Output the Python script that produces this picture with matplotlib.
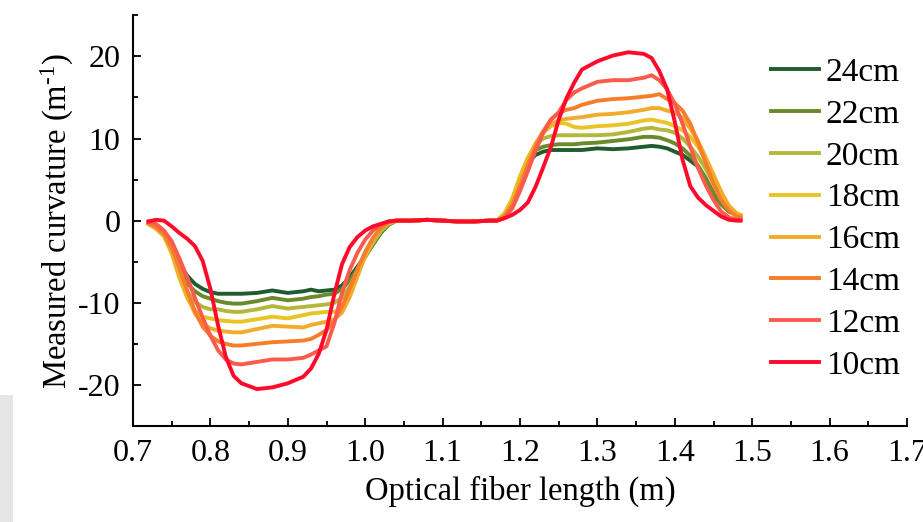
import matplotlib
matplotlib.use("Agg")
import matplotlib.pyplot as plt
from matplotlib.patches import Rectangle
from matplotlib.ticker import MultipleLocator

plt.rcParams['font.family'] = ['Liberation Serif', 'DejaVu Serif']
plt.rcParams['mathtext.fontset'] = 'custom'
plt.rcParams['mathtext.rm'] = 'Liberation Serif'
plt.rcParams['mathtext.it'] = 'Liberation Serif:italic'
plt.rcParams['axes.unicode_minus'] = False

# fiber position (m), shared by all curves
fiber_x = [0.72, 0.73, 0.74, 0.75, 0.76, 0.77, 0.78, 0.79, 0.80, 0.81, 0.82, 0.83, 0.84,
           0.86, 0.88, 0.90, 0.92, 0.93, 0.94, 0.95, 0.96, 0.97, 0.98, 0.99, 1.00, 1.01,
           1.02, 1.03, 1.04,
           1.06, 1.08, 1.10, 1.12, 1.14, 1.16, 1.17,
           1.18, 1.19, 1.20, 1.21, 1.22, 1.23, 1.24, 1.25, 1.26, 1.27, 1.28, 1.30, 1.32,
           1.34, 1.36, 1.37, 1.38, 1.39, 1.40, 1.41, 1.42, 1.43, 1.44, 1.45, 1.46, 1.47,
           1.48, 1.485]

labels = ['24cm', '22cm', '20cm', '18cm', '16cm', '14cm', '12cm', '10cm']
colors = ['#1f5c2e', '#6b8a2c', '#b4b83a', '#e8c424', '#f2ac2c', '#f77d2a', '#fb5b4d', '#ff0a2b']

curv_24 = [-0.3, -0.7, -1.5, -3.5, -5.3, -6.7, -7.7, -8.3, -8.7, -8.9, -8.9, -8.9, -8.9,
           -8.8, -8.5, -8.8, -8.6, -8.4, -8.6, -8.5, -8.4, -7.9, -6.9, -5.6, -4.3, -2.9,
           -1.5, -0.5, 0.0,
           0.0, 0.1, 0.0, -0.1, -0.1, 0.0, 0.0,
           0.6, 2.3, 5.0, 7.0, 8.0, 8.4, 8.6, 8.6, 8.6, 8.6, 8.6, 8.8, 8.7,
           8.8, 9.0, 9.1, 9.0, 8.8, 8.4, 8.0, 7.3, 6.6, 4.8, 3.2, 2.0, 1.1,
           0.7, 0.6]
curv_22 = [-0.4, -0.8, -1.7, -3.6, -6.0, -7.6, -8.6, -9.2, -9.5, -9.8, -10.0, -10.1, -10.1,
           -9.8, -9.4, -9.7, -9.5, -9.3, -9.2, -9.0, -8.9, -8.3, -7.3, -5.9, -4.4, -2.9,
           -1.5, -0.5, 0.0,
           0.0, 0.1, 0.0, -0.1, -0.1, 0.0, 0.0,
           0.7, 2.5, 5.2, 7.4, 8.6, 9.0, 9.2, 9.3, 9.3, 9.3, 9.4, 9.5, 9.7,
           9.9, 10.2, 10.2, 10.1, 9.8, 9.4, 8.8, 7.9, 6.7, 5.2, 3.4, 2.0, 1.2,
           0.8, 0.6]
curv_20 = [-0.4, -0.9, -1.8, -3.8, -6.6, -8.7, -9.9, -10.5, -10.8, -10.8, -11.0, -11.1, -11.1,
           -10.8, -10.4, -10.7, -10.5, -10.4, -10.3, -10.2, -10.0, -9.4, -8.0, -6.2, -4.4, -2.7,
           -1.3, -0.4, 0.0,
           0.0, 0.1, 0.0, -0.1, -0.1, 0.0, 0.0,
           0.8, 2.6, 5.3, 7.6, 9.2, 10.0, 10.3, 10.4, 10.4, 10.4, 10.4, 10.4, 10.5,
           10.8, 11.2, 11.3, 11.1, 11.0, 10.7, 10.0, 9.0, 7.8, 6.3, 4.5, 2.8, 1.5,
           0.8, 0.6]
curv_18 = [-0.4, -1.0, -1.9, -4.0, -7.0, -9.4, -11.0, -11.7, -11.9, -12.1, -12.2, -12.3, -12.3,
           -12.0, -11.7, -11.9, -11.5, -11.3, -11.2, -11.1, -11.1, -10.8, -8.8, -6.3, -4.0, -2.2,
           -0.9, -0.2, 0.0,
           0.0, 0.1, 0.0, -0.1, -0.1, 0.0, 0.0,
           0.9, 2.7, 5.4, 7.6, 9.4, 10.7, 11.5, 11.9, 11.8, 11.4, 11.3, 11.5, 11.6,
           11.8, 12.2, 12.3, 12.1, 11.9, 11.5, 11.0, 10.2, 9.0, 7.4, 5.3, 3.3, 1.7,
           0.8, 0.6]
curv_16 = [-0.4, -1.0, -1.8, -3.8, -6.7, -9.2, -11.3, -12.6, -13.1, -13.4, -13.5, -13.6, -13.6,
           -13.2, -12.8, -12.9, -13.0, -12.7, -12.5, -12.3, -12.0, -11.2, -9.3, -6.8, -4.3, -2.4,
           -1.0, -0.3, 0.0,
           0.0, 0.1, 0.0, -0.1, -0.1, 0.0, 0.0,
           0.6, 2.2, 4.8, 7.2, 9.3, 10.9, 11.8, 12.2, 12.4, 12.5, 12.6, 12.9, 13.0,
           13.2, 13.5, 13.7, 13.7, 13.4, 13.2, 12.5, 11.2, 9.7, 7.7, 5.6, 3.5, 1.8,
           0.9, 0.7]
curv_14 = [-0.3, -0.8, -1.6, -3.3, -5.8, -8.5, -11.0, -12.9, -14.0, -14.7, -15.0, -15.2, -15.2,
           -15.0, -14.8, -14.7, -14.6, -14.4, -13.9, -13.3, -12.2, -10.5, -8.3, -5.9, -3.8, -2.1,
           -0.9, -0.2, 0.0,
           0.0, 0.1, 0.0, -0.1, -0.1, 0.0, 0.0,
           0.5, 1.9, 4.2, 6.7, 9.0, 10.9, 12.3, 13.1, 13.5, 13.7, 14.1, 14.6, 14.8,
           14.9, 15.1, 15.2, 15.4, 14.8, 14.3, 13.4, 11.8, 9.5, 7.0, 4.5, 2.5, 1.2,
           0.5, 0.4]
curv_12 = [-0.1, -0.4, -1.2, -2.5, -4.6, -6.9, -9.4, -11.8, -14.0, -15.8, -16.9, -17.4, -17.5,
           -17.2, -16.9, -16.9, -16.7, -16.3, -15.8, -15.3, -12.5, -8.8, -6.0, -3.9, -2.3, -1.2,
           -0.5, -0.1, 0.0,
           0.0, 0.1, 0.0, -0.1, -0.1, 0.0, 0.0,
           0.3, 1.5, 3.6, 6.0, 8.5, 10.7, 12.3, 13.2, 14.7, 15.6, 16.1, 16.9, 17.1,
           17.1, 17.4, 17.7, 17.1, 16.0, 14.2, 11.8, 9.0, 6.4, 4.3, 2.5, 1.1, 0.4,
           0.1, 0.1]
curv_10 = [-0.1, 0.1, 0.0, -0.7, -1.5, -2.2, -3.1, -4.9, -8.3, -12.8, -16.6, -18.9, -19.8,
           -20.5, -20.3, -19.8, -19.0, -18.0, -16.2, -13.3, -9.0, -5.3, -3.2, -2.0, -1.2, -0.7,
           -0.4, -0.1, 0.0,
           0.0, 0.1, 0.0, -0.1, -0.1, 0.0, 0.0,
           0.3, 0.7, 1.3, 2.2, 4.1, 6.5, 9.0, 12.3, 14.9, 16.8, 18.4, 19.4, 20.1,
           20.5, 20.3, 19.8, 18.2, 16.0, 12.0, 7.4, 4.2, 2.8, 1.9, 1.2, 0.5, 0.1,
           0.0, 0.0]

curves = [curv_24, curv_22, curv_20, curv_18, curv_16, curv_14, curv_12, curv_10]

fig = plt.figure(figsize=(9.23, 5.22), dpi=100)
ax = fig.add_axes([0.1441, 0.1839, 0.8386, 0.7868])

for y, c, lab in zip(curves, colors, labels):
    ax.plot(fiber_x, y, color=c, linewidth=2.8, label=lab,
            solid_joinstyle='round')

ax.set_xlim(0.7, 1.7)
ax.set_ylim(-25, 25)
ax.xaxis.set_major_locator(MultipleLocator(0.1))
ax.xaxis.set_minor_locator(MultipleLocator(0.05))
ax.yaxis.set_major_locator(MultipleLocator(10))
ax.yaxis.set_minor_locator(MultipleLocator(5))
ax.xaxis.set_major_formatter(matplotlib.ticker.FormatStrFormatter('%.1f'))

ax.spines['top'].set_visible(False)
ax.spines['right'].set_visible(False)
ax.spines['left'].set_linewidth(1.5)
ax.spines['bottom'].set_linewidth(1.5)
ax.tick_params(which='major', direction='in', length=6, width=1.3, labelsize=23, pad=9)
ax.tick_params(which='minor', direction='in', length=3.5, width=1.3)

ax.set_xlabel('Optical fiber length (m)', fontsize=23.5, labelpad=6)
ax.set_ylabel('Measured curvature (m$^{\\text{-}1}$)', fontsize=23.5, labelpad=1)

ax.legend(loc='upper left', bbox_to_anchor=(0.807, 0.93), frameon=False, fontsize=24,
          handlelength=1.44, handletextpad=0.21, labelspacing=0.34, borderaxespad=0)

fig.patches.append(Rectangle((0, 0), 13 / 923, 127 / 522, transform=fig.transFigure,
                             facecolor='#e6e6e6', edgecolor='none', zorder=-1))

fig.savefig('out.png', dpi=100)
